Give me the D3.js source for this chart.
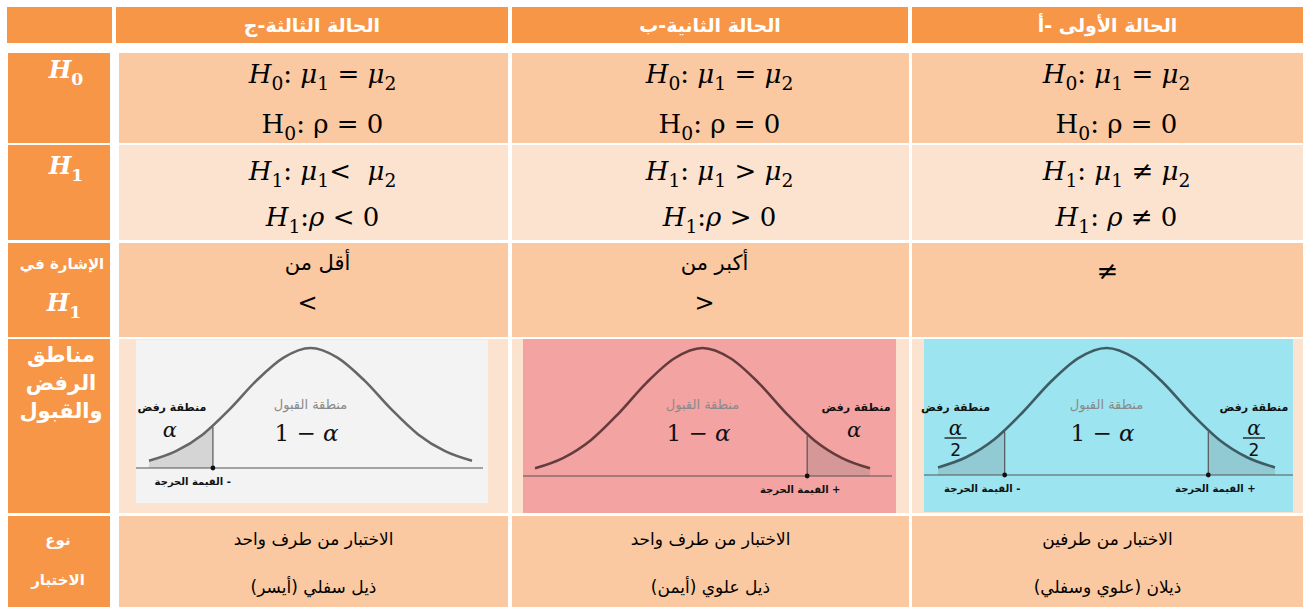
<!DOCTYPE html>
<html>
<head>
<meta charset="utf-8">
<script src="https://cdn.jsdelivr.net/npm/d3@7"></script>
<style>
  body { margin: 0; background: #fff; }
  svg text { white-space: pre; }
</style>
</head>
<body>
<div id="chart"></div>
<script>
// column headers (left to right as drawn)
const caseTitles = ["الحالة الثالثة-ج", "الحالة الثانية-ب", "الحالة الأولى -أ"];

// math lines: *x* italic, _c subscript
const h0Lines = [
  ["*H*_0: *μ*_1 = *μ*_2", "H_0: ρ = 0"],
  ["*H*_0: *μ*_1 = *μ*_2", "H_0: ρ = 0"],
  ["*H*_0: *μ*_1 = *μ*_2", "H_0: ρ = 0"]
];
const h1Lines = [
  ["*H*_1: *μ*_1<  *μ*_2", "*H*_1:*ρ* < 0"],
  ["*H*_1: *μ*_1 > *μ*_2", "*H*_1:*ρ* > 0"],
  ["*H*_1: *μ*_1 ≠ *μ*_2", "*H*_1: *ρ* ≠ 0"]
];
const signLines = [["أقل من", "<"], ["أكبر من", ">"], ["≠"]];
const typeLines = [
  ["الاختبار من طرف واحد", "ذيل سفلي (أيسر)"],
  ["الاختبار من طرف واحد", "ذيل علوي (أيمن)"],
  ["الاختبار من طرفين", "ذيلان (علوي وسفلي)"]
];

// bell curve (relative height at each z)
const curveZ = [-2.4, -2, -1.6, -1.2, -0.8, -0.4, 0, 0.4, 0.8, 1.2, 1.6, 2, 2.4];
const curveH = [0.06, 0.14, 0.28, 0.49, 0.73, 0.92, 1, 0.92, 0.73, 0.49, 0.28, 0.14, 0.06];
const criticalZ = [[-1.45], [1.5], [-1.45, 1.45]];
const rejectText = ["α", "α", "α/2"];

const W = 1309, H = 609;
const orange = "#F79646", band1 = "#FAC9A1", band2 = "#FCE3D0";

// layout
const headX = [[7, 112], [116, 508], [512, 908], [912, 1303]];
const bodyX = [[8, 110], [119, 508], [512, 909], [912, 1303]];
const headY = [7, 43];
const rowY = [[53, 143], [145, 240], [243, 337], [339, 513], [516, 607]];
const rowFill = [band1, band2, band1, band2, band1];

const panels = [
  {bg: "#F3F3F3", box: [136, 340, 488, 503], axis: [136, 483], baseY: 468, curveX: [149, 472], peakY: 348,
   stroke: "#666666", rejZ: [-2.06], critZ: [-1.75]},
  {bg: "#F4A3A3", box: [523, 339, 896, 513], axis: [523, 892], baseY: 476, curveX: [535, 870], peakY: 348,
   stroke: "#643c3c", rejZ: [2.2], critZ: [1.4]},
  {bg: "#9CE4F0", box: [924, 339, 1293, 512], axis: [924, 1293], baseY: 475, curveX: [938, 1275], peakY: 348,
   stroke: "#3f5c62", rejZ: [-2.15, 2.1], critZ: [-1.77, 1.55]}
];

const svg = d3.select("#chart").append("svg")
    .attr("width", W)
    .attr("height", H);

const serif = "'DejaVu Serif', serif";
const arabic = "'DejaVu Sans', sans-serif";

// header row
svg.append("rect").attr("x", headX[0][0]).attr("y", headY[0])
    .attr("width", headX[0][1] - headX[0][0]).attr("height", headY[1] - headY[0]).attr("fill", orange);
svg.selectAll("rect.head").data(caseTitles).enter().append("rect")
    .attr("class", "head")
    .attr("x", (d, i) => headX[i + 1][0])
    .attr("y", headY[0])
    .attr("width", (d, i) => headX[i + 1][1] - headX[i + 1][0])
    .attr("height", headY[1] - headY[0])
    .attr("fill", orange);
svg.selectAll("text.head").data(caseTitles).enter().append("text")
    .attr("class", "head")
    .attr("x", (d, i) => (headX[i + 1][0] + headX[i + 1][1]) / 2)
    .attr("y", 26)
    .attr("text-anchor", "middle")
    .attr("dominant-baseline", "middle")
    .style("direction", "rtl")
    .style("font-family", arabic).style("font-weight", "bold").style("font-size", "19px")
    .attr("fill", "#fff")
    .text(d => d);

// body cells
rowY.forEach((r, ri) => {
  svg.append("rect").attr("x", bodyX[0][0]).attr("y", r[0])
      .attr("width", bodyX[0][1] - bodyX[0][0]).attr("height", r[1] - r[0]).attr("fill", orange);
  for (let c = 1; c < 4; c++) {
    svg.append("rect").attr("x", bodyX[c][0]).attr("y", r[0])
        .attr("width", bodyX[c][1] - bodyX[c][0]).attr("height", r[1] - r[0]).attr("fill", rowFill[ri]);
  }
});

const colMid = c => (bodyX[c + 1][0] + bodyX[c + 1][1]) / 2;

// draw a math line from the little markup
function mathLine(g, str, x, y, size, color) {
  const t = g.append("text").attr("x", x).attr("y", y)
      .attr("text-anchor", "middle")
      .style("font-family", serif).style("font-size", size + "px")
      .attr("fill", color);
  const parts = str.match(/(\*[^*]+\*|_.|[^*_]+)/g);
  let shift = 0;
  parts.forEach(p => {
    const sp = t.append("tspan");
    if (p[0] === "_") {
      sp.text(p[1]).style("font-size", (size * 0.72) + "px").attr("dy", size * 0.28 - shift);
      shift = size * 0.28;
      return;
    }
    if (shift) { sp.attr("dy", -shift); shift = 0; }
    if (p[0] === "*") sp.text(p.slice(1, -1)).style("font-style", "italic");
    else sp.text(p);
  });
  return t;
}

// H0 and H1 rows
h0Lines.forEach((lines, c) => {
  mathLine(svg, lines[0], colMid(c) + 9, 83, 26, "#000");
  mathLine(svg, lines[1], colMid(c) + 9, 133, 26, "#000");
});
h1Lines.forEach((lines, c) => {
  mathLine(svg, lines[0], colMid(c) + 9, 180, 26, "#000");
  mathLine(svg, lines[1], colMid(c) + 9, 226, 26, "#000");
});

// sign row
signLines.forEach((lines, c) => {
  if (lines.length === 1) {
    svg.append("text").attr("x", colMid(c)).attr("y", 272)
        .attr("text-anchor", "middle").attr("dominant-baseline", "middle")
        .style("font-family", arabic).style("font-size", "26px").text(lines[0]);
    return;
  }
  svg.append("text").attr("x", colMid(c) + 4).attr("y", 264)
      .attr("text-anchor", "middle").attr("dominant-baseline", "middle")
      .style("direction", "rtl")
      .style("font-family", arabic).style("font-size", "21px").text(lines[0]);
  svg.append("text").attr("x", colMid(c) - 6).attr("y", 304)
      .attr("text-anchor", "middle").attr("dominant-baseline", "middle")
      .style("font-family", arabic).style("font-size", "24px").text(lines[1]);
});

// test type row
typeLines.forEach((lines, c) => {
  lines.forEach((l, k) => {
    svg.append("text").attr("x", colMid(c)).attr("y", 540 + k * 48)
        .attr("text-anchor", "middle").attr("dominant-baseline", "middle")
        .style("direction", "rtl")
        .style("font-family", arabic).style("font-size", "17px")
        .attr("fill", "#000")
        .text(l);
  });
});

// left column labels
const white = "#fff";
mathLine(svg, "*H*_0", 66, 78, 24, white).style("font-weight", "bold");
mathLine(svg, "*H*_1", 66, 174, 24, white).style("font-weight", "bold");
svg.append("text").attr("x", 62).attr("y", 264).attr("text-anchor", "middle").attr("dominant-baseline", "middle")
    .style("direction", "rtl").style("font-family", arabic).style("font-weight", "bold").style("font-size", "15px")
    .attr("fill", white).text("الإشارة في");
mathLine(svg, "*H*_1", 64, 311, 24, white).style("font-weight", "bold");
["مناطق", "الرفض", "والقبول"].forEach((l, k) => {
  svg.append("text").attr("x", 61).attr("y", 356 + k * 28).attr("text-anchor", "middle").attr("dominant-baseline", "middle")
      .style("direction", "rtl").style("font-family", arabic).style("font-weight", "bold").style("font-size", "21px")
      .attr("fill", white).text(l);
});
["نوع", "الاختبار"].forEach((l, k) => {
  svg.append("text").attr("x", 58).attr("y", 540 + k * 40).attr("text-anchor", "middle").attr("dominant-baseline", "middle")
      .style("direction", "rtl").style("font-family", arabic).style("font-weight", "bold").style("font-size", "15px")
      .attr("fill", white).text(l);
});

// acceptance / rejection region pictures
const curveData = curveZ.map((z, i) => ({z: z, h: curveH[i]}));

panels.forEach((p, c) => {
  const g = svg.append("g");
  g.append("rect").attr("x", p.box[0]).attr("y", p.box[1])
      .attr("width", p.box[2] - p.box[0]).attr("height", p.box[3] - p.box[1]).attr("fill", p.bg);

  const x = d3.scaleLinear().domain([curveZ[0], curveZ[curveZ.length - 1]]).range(p.curveX);
  const y = d3.scaleLinear().domain([0, 1]).range([p.baseY, p.peakY]);

  // shaded tails, clipped from a full area
  criticalZ[c].forEach((cz, k) => {
    const id = "clip" + c + "_" + k;
    const lo = cz < 0 ? x(curveZ[0]) : x(cz);
    const hi = cz < 0 ? x(cz) : x(curveZ[curveZ.length - 1]);
    g.append("clipPath").attr("id", id).append("rect")
        .attr("x", lo).attr("y", p.peakY).attr("width", hi - lo).attr("height", p.baseY - p.peakY);
    g.append("path").datum(curveData)
        .attr("clip-path", "url(#" + id + ")")
        .attr("fill", "rgba(110,110,110,0.22)")
        .attr("d", d3.area().x(d => x(d.z)).y0(p.baseY).y1(d => y(d.h)).curve(d3.curveCardinal));
  });

  // axis line
  g.append("line").attr("x1", p.axis[0]).attr("x2", p.axis[1])
      .attr("y1", p.baseY).attr("y2", p.baseY)
      .attr("stroke", "#555").attr("stroke-width", 1.2);

  // bell curve
  g.append("path").datum(curveData)
      .attr("fill", "none").attr("stroke", p.stroke).attr("stroke-width", 2.6)
      .attr("d", d3.line().x(d => x(d.z)).y(d => y(d.h)).curve(d3.curveCardinal));

  // critical values: vertical line + dot
  criticalZ[c].forEach(cz => {
    const hAt = d3.scaleLinear().domain(curveZ).range(curveH)(cz);
    g.append("line").attr("x1", x(cz)).attr("x2", x(cz))
        .attr("y1", p.baseY).attr("y2", y(hAt) + 2)
        .attr("stroke", "#555").attr("stroke-width", 1.2);
    g.append("circle").attr("cx", x(cz)).attr("cy", p.baseY).attr("r", 2.4).attr("fill", "#111");
  });

  // acceptance labels
  g.append("text").attr("x", x(0)).attr("y", p.peakY + 57)
      .attr("text-anchor", "middle").attr("dominant-baseline", "middle")
      .style("direction", "rtl").style("font-family", arabic).style("font-size", "13px")
      .attr("fill", "#8a8a8a").text("منطقة القبول");
  const one = g.append("text").attr("x", x(0) - 4).attr("y", p.peakY + 93)
      .attr("text-anchor", "middle")
      .style("font-family", serif).style("font-size", "23px").attr("fill", "#111");
  one.append("tspan").text("1 − ");
  one.append("tspan").style("font-style", "italic").text("α");

  // rejection labels
  p.rejZ.forEach(rz => {
    g.append("text").attr("x", x(rz)).attr("y", p.peakY + 60)
        .attr("text-anchor", "middle").attr("dominant-baseline", "middle")
        .style("direction", "rtl").style("font-family", arabic).style("font-weight", "bold").style("font-size", "11px")
        .attr("fill", "#111").text("منطقة رفض");
    if (rejectText[c] === "α") {
      g.append("text").attr("x", x(rz) - 2).attr("y", p.peakY + 89)
          .attr("text-anchor", "middle")
          .style("font-family", serif).style("font-style", "italic").style("font-size", "21px")
          .attr("fill", "#111").text("α");
    } else {
      g.append("text").attr("x", x(rz)).attr("y", p.peakY + 87)
          .attr("text-anchor", "middle")
          .style("font-family", serif).style("font-style", "italic").style("font-size", "20px")
          .attr("fill", "#111").text("α");
      g.append("line").attr("x1", x(rz) - 11).attr("x2", x(rz) + 11)
          .attr("y1", p.peakY + 90).attr("y2", p.peakY + 90)
          .attr("stroke", "#111").attr("stroke-width", 1.3);
      g.append("text").attr("x", x(rz)).attr("y", p.peakY + 108)
          .attr("text-anchor", "middle")
          .style("font-family", arabic).style("font-size", "17px")
          .attr("fill", "#111").text("2");
    }
  });

  // critical value labels
  p.critZ.forEach(lz => {
    const sign = lz < 0 ? "- " : "+ ";
    g.append("text").attr("x", x(lz)).attr("y", p.baseY + 14)
        .attr("text-anchor", "middle").attr("dominant-baseline", "middle")
        .style("direction", "rtl").style("font-family", arabic).style("font-weight", "bold").style("font-size", "10px")
        .attr("fill", "#111").text(sign + "القيمة الحرجة");
  });
});
</script>
</body>
</html>
